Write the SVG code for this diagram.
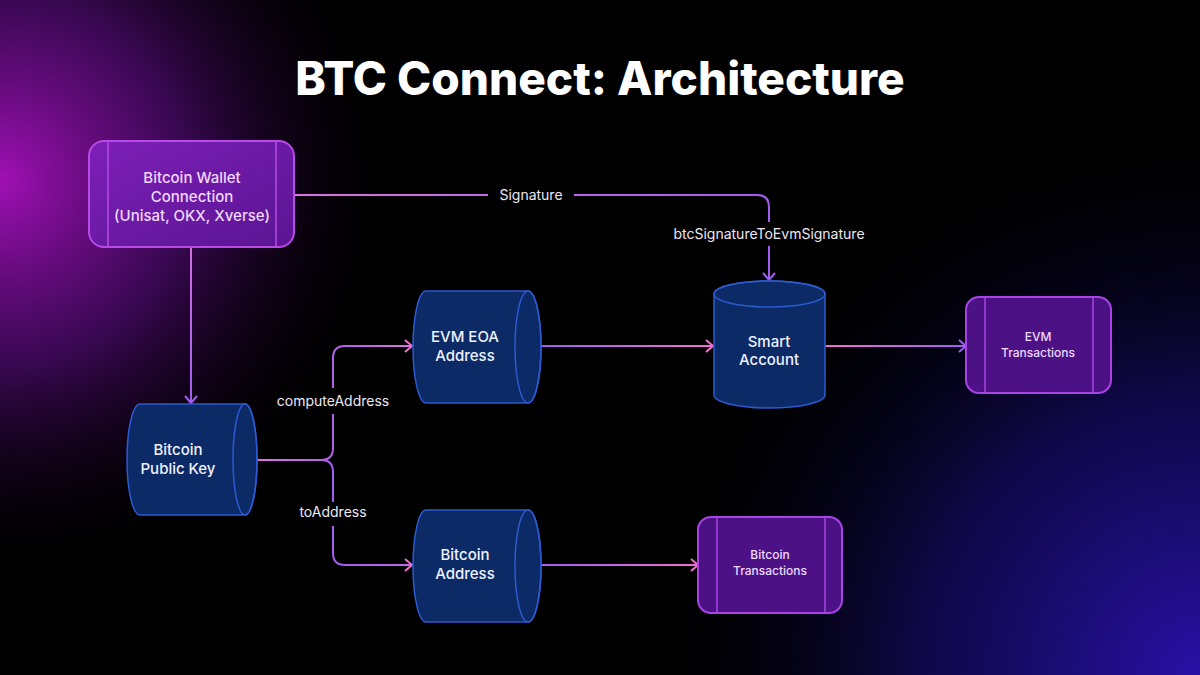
<svg xmlns="http://www.w3.org/2000/svg" width="1200" height="675" viewBox="0 0 1200 675">
<style>
.lbl{font-family:Inter,"Noto Sans",sans-serif;font-size:14px;fill:#ece8f4;text-anchor:middle}
.cyl{fill:#0c2a66;stroke:#2c5ad0;stroke-width:1.5}
.ctext{font-family:Inter,"Noto Sans",sans-serif;font-size:15px;font-weight:500;fill:#eef2ff;text-anchor:middle}
.ptext{font-family:Inter,"Noto Sans",sans-serif;font-weight:500;fill:#f0d8ff;text-anchor:middle}
.conn{fill:none;stroke-width:2}
.inner{stroke-width:1.5}
</style>
<defs>
<radialGradient id="bgL" cx="0" cy="180" r="400" gradientUnits="userSpaceOnUse">
<stop offset="0" stop-color="#a010b4"/>
<stop offset="0.45" stop-color="#4a0a6a" stop-opacity="0.8"/>
<stop offset="1" stop-color="#000" stop-opacity="0"/>
</radialGradient>
<radialGradient id="bgR" cx="1200" cy="675" r="560" gradientUnits="userSpaceOnUse">
<stop offset="0" stop-color="#2a10a8"/>
<stop offset="0.5" stop-color="#120a5a" stop-opacity="0.8"/>
<stop offset="1" stop-color="#000" stop-opacity="0"/>
</radialGradient>
<linearGradient id="wallet" x1="0" y1="0" x2="1" y2="1">
<stop offset="0" stop-color="#7d1fb8"/>
<stop offset="1" stop-color="#5a1592"/>
</linearGradient>
<linearGradient id="gSig" x1="294" y1="0" x2="769" y2="0" gradientUnits="userSpaceOnUse"><stop offset="0" stop-color="#e070e0"/><stop offset="1" stop-color="#a25cf0"/></linearGradient>
<linearGradient id="gDown" x1="0" y1="247" x2="0" y2="403" gradientUnits="userSpaceOnUse"><stop offset="0" stop-color="#d070e0"/><stop offset="1" stop-color="#a25cf0"/></linearGradient>
<linearGradient id="gComp" x1="257" y1="0" x2="412" y2="0" gradientUnits="userSpaceOnUse"><stop offset="0" stop-color="#e070e0"/><stop offset="0.5" stop-color="#b060e8"/><stop offset="1" stop-color="#e070e0"/></linearGradient>
<linearGradient id="gTo" x1="257" y1="0" x2="412" y2="0" gradientUnits="userSpaceOnUse"><stop offset="0" stop-color="#e070e0"/><stop offset="0.5" stop-color="#a25cf0"/><stop offset="1" stop-color="#c068e8"/></linearGradient>
<linearGradient id="gEoa" x1="541" y1="0" x2="713" y2="0" gradientUnits="userSpaceOnUse"><stop offset="0" stop-color="#a25cf0"/><stop offset="1" stop-color="#f070d0"/></linearGradient>
<linearGradient id="gSmart" x1="825" y1="0" x2="966" y2="0" gradientUnits="userSpaceOnUse"><stop offset="0" stop-color="#f070d0"/><stop offset="1" stop-color="#a25cf0"/></linearGradient>
<linearGradient id="gBtc" x1="541" y1="0" x2="698" y2="0" gradientUnits="userSpaceOnUse"><stop offset="0" stop-color="#a25cf0"/><stop offset="1" stop-color="#f070d0"/></linearGradient>
<marker id="aPink" markerWidth="12" markerHeight="14" refX="9" refY="7" orient="auto" markerUnits="userSpaceOnUse"><path d="M2,1 L9,7 L2,13" fill="none" stroke="#f070d0" stroke-width="2"/></marker>
<marker id="aPurple" markerWidth="12" markerHeight="14" refX="9" refY="7" orient="auto" markerUnits="userSpaceOnUse"><path d="M2,1 L9,7 L2,13" fill="none" stroke="#a25cf0" stroke-width="2"/></marker>
</defs>

<rect width="1200" height="675" fill="#000"/>
<rect width="1200" height="675" fill="url(#bgL)"/>
<rect width="1200" height="675" fill="url(#bgR)"/>

<text x="600" y="95" font-family="Inter,'Noto Sans',sans-serif" font-size="46" font-weight="800" fill="#fff" text-anchor="middle">BTC Connect: Architecture</text>

<g id="connectors">
<path class="conn" stroke="url(#gSig)" d="M294,195 H488"/>
<path class="conn" stroke="url(#gSig)" d="M574,195 H757 Q769,195 769,207 V222"/>
<path class="conn" stroke="#a25cf0" d="M769,246 V280" marker-end="url(#aPurple)"/>
<text class="lbl" x="531" y="200">Signature</text>
<text class="lbl" x="769" y="239">btcSignatureToEvmSignature</text>

<path class="conn" stroke="url(#gDown)" d="M191,247 V403" marker-end="url(#aPurple)"/>

<path class="conn" stroke="url(#gComp)" d="M257,460 H321 Q333,460 333,448 V414"/>
<path class="conn" stroke="url(#gComp)" d="M333,388 V358 Q333,346 345,346 H412" marker-end="url(#aPink)"/>
<text class="lbl" x="333" y="406">computeAddress</text>
<path class="conn" stroke="url(#gTo)" d="M321,460 Q333,460 333,472 V502"/>
<path class="conn" stroke="url(#gTo)" d="M333,526 V553 Q333,565 345,565 H412" marker-end="url(#aPink)"/>
<text class="lbl" x="333" y="517">toAddress</text>

<path class="conn" stroke="url(#gEoa)" d="M541,346 H713" marker-end="url(#aPink)"/>
<path class="conn" stroke="url(#gSmart)" d="M825,346 H966" marker-end="url(#aPurple)"/>
<path class="conn" stroke="url(#gBtc)" d="M541,565 H698" marker-end="url(#aPink)"/>
</g>

<g id="wallet-node">
<rect x="89" y="141" width="205" height="106" rx="15" fill="url(#wallet)" stroke="#b84ae8" stroke-width="2"/>
<line class="inner" x1="108" y1="142" x2="108" y2="246" stroke="#b84ae8"/>
<line class="inner" x1="276" y1="142" x2="276" y2="246" stroke="#b84ae8"/>
<text class="ptext" font-size="15" x="192" y="183">Bitcoin Wallet</text>
<text class="ptext" font-size="15" x="192" y="202">Connection</text>
<text class="ptext" font-size="15" x="192" y="221">(Unisat, OKX, Xverse)</text>
</g>

<g id="pubkey-node">
<path class="cyl" d="M140,404 H245 A12,55.5 0 0 1 245,515 H140 A13,55.5 0 0 1 140,404 Z"/>
<ellipse cx="245" cy="459.5" rx="12" ry="55.5" fill="none" stroke="#2c5ad0" stroke-width="1.5"/>
<text class="ctext" x="178" y="455">Bitcoin</text>
<text class="ctext" x="178" y="474">Public Key</text>
</g>

<g id="eoa-node">
<path class="cyl" d="M426,291 H528 A13,56 0 0 1 528,403 H426 A13,56 0 0 1 426,291 Z"/>
<ellipse cx="528" cy="347" rx="13" ry="56" fill="none" stroke="#2c5ad0" stroke-width="1.5"/>
<text class="ctext" x="465" y="342">EVM EOA</text>
<text class="ctext" x="465" y="361">Address</text>
</g>

<g id="btcaddr-node">
<path class="cyl" d="M426,510 H528 A13,56 0 0 1 528,622 H426 A13,56 0 0 1 426,510 Z"/>
<ellipse cx="528" cy="566" rx="13" ry="56" fill="none" stroke="#2c5ad0" stroke-width="1.5"/>
<text class="ctext" x="465" y="560">Bitcoin</text>
<text class="ctext" x="465" y="579">Address</text>
</g>

<g id="smart-node">
<path class="cyl" d="M714,294 A55.5,13 0 0 1 825,294 V395 A55.5,13 0 0 1 714,395 Z"/>
<ellipse cx="769.5" cy="294" rx="55.5" ry="13" fill="none" stroke="#2c5ad0" stroke-width="1.5"/>
<text class="ctext" x="769" y="347">Smart</text>
<text class="ctext" x="769" y="365">Account</text>
</g>

<g id="evmtx-node">
<rect x="966" y="297" width="145" height="96" rx="13" fill="#4c1285" stroke="#a844e6" stroke-width="2"/>
<line class="inner" x1="985" y1="298" x2="985" y2="392" stroke="#a844e6"/>
<line class="inner" x1="1093" y1="298" x2="1093" y2="392" stroke="#a844e6"/>
<text class="ptext" font-size="12" x="1038" y="341">EVM</text>
<text class="ptext" font-size="12" x="1038" y="357">Transactions</text>
</g>

<g id="btctx-node">
<rect x="698" y="517" width="144" height="96" rx="13" fill="#4c1285" stroke="#a844e6" stroke-width="2"/>
<line class="inner" x1="717" y1="518" x2="717" y2="612" stroke="#a844e6"/>
<line class="inner" x1="825" y1="518" x2="825" y2="612" stroke="#a844e6"/>
<text class="ptext" font-size="12" x="770" y="559">Bitcoin</text>
<text class="ptext" font-size="12" x="770" y="575">Transactions</text>
</g>
</svg>
